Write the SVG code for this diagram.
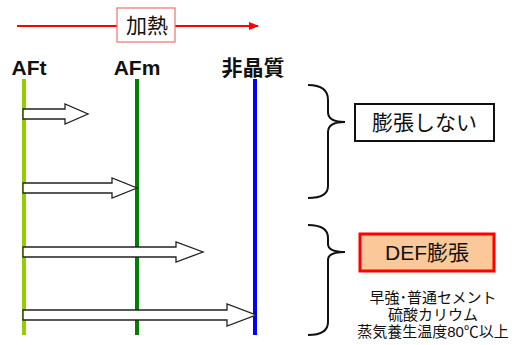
<svg xmlns="http://www.w3.org/2000/svg" width="519" height="345" viewBox="0 0 519 345">
<style>
.t{font-family:"Liberation Sans","Noto Sans CJK JP",sans-serif;fill:#111}
.h{font-size:21px;font-weight:bold}
.blk{fill:#fff;stroke:#222;stroke-width:1.3}
.br{fill:none;stroke:#111;stroke-width:2}
</style>
<defs>
<marker id="ra" markerWidth="10" markerHeight="8" refX="9" refY="4" orient="auto" markerUnits="userSpaceOnUse"><path d="M0,0 L10,4 L0,8 Z" fill="#f00"/></marker>
</defs>
<g id="heat">
<line x1="17" y1="26" x2="258" y2="26" stroke="#f00" stroke-width="2" marker-end="url(#ra)"/>
<rect x="117" y="8" width="58" height="34" fill="#fff" stroke="#f07070" stroke-width="1.2"/>
<text class="t" x="147" y="33" font-size="21" text-anchor="middle">加熱</text>
</g>
<g id="AFt">
<text class="t h" x="29" y="75" text-anchor="middle">AFt</text>
<line x1="24" y1="79" x2="24" y2="335" stroke="#99cc00" stroke-width="4"/>
</g>
<g id="AFm">
<text class="t h" x="137" y="75" text-anchor="middle">AFm</text>
<line x1="137" y1="79" x2="137" y2="335" stroke="#008000" stroke-width="4"/>
</g>
<g id="amorphous">
<text class="t h" x="253" y="75" text-anchor="middle">非晶質</text>
<line x1="255" y1="79" x2="255" y2="335" stroke="#0000ff" stroke-width="4"/>
</g>
<g id="connectors">
<path class="blk" d="M23,109 H65 V104 L88,114 L65,124 V119 H23 Z"/>
<path class="blk" d="M23,183 H112 V178 L137,188 L112,198 V193 H23 Z"/>
<path class="blk" d="M23,247 H176 V242 L203,252 L176,262 V257 H23 Z"/>
<path class="blk" d="M23,310 H227 V304 L256,315 L227,326 V320 H23 Z"/>
<path class="br" d="M308,85 Q328,85 328,100 V112 Q328,122 345,122 Q328,122 328,132 V186 Q328,198 308,198"/>
<path class="br" d="M308,225 Q328,225 328,238 V244 Q328,252 345,252 Q328,252 328,260 V322 Q328,335 308,335"/>
</g>
<g id="no-expansion">
<rect x="355" y="104" width="139" height="37" fill="#fff" stroke="#111" stroke-width="2"/>
<text class="t" x="424.5" y="130" font-size="21" text-anchor="middle">膨張しない</text>
</g>
<g id="DEF">
<rect x="360" y="234" width="134" height="37" fill="#fbc89a" stroke="#f00" stroke-width="3"/>
<text class="t" x="427" y="260" font-size="21" text-anchor="middle">DEF膨張</text>
</g>
<g id="conditions">
<text class="t" x="433" y="303" font-size="15" text-anchor="middle">早強･普通セメント</text>
<text class="t" x="433" y="320" font-size="15" text-anchor="middle">硫酸カリウム</text>
<text class="t" x="433" y="337" font-size="15" text-anchor="middle">蒸気養生温度80℃以上</text>
</g>
</svg>
